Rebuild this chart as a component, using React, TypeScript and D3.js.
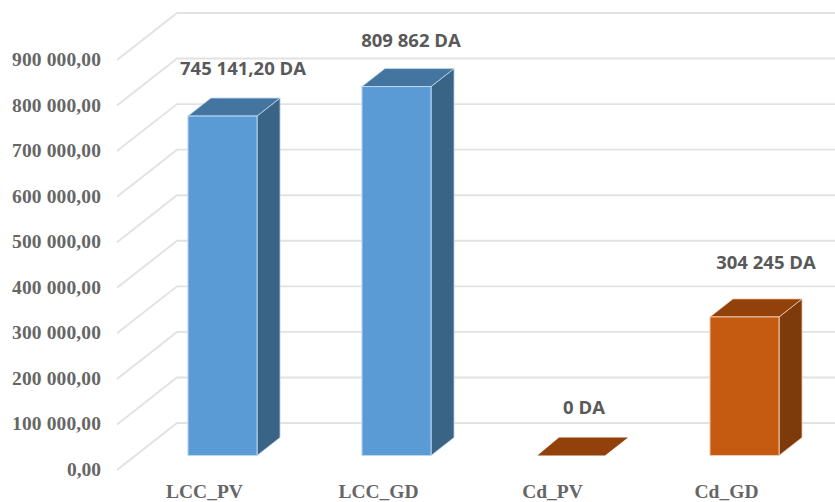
import React from "react";
import * as d3 from "d3";

const categories = ["LCC_PV", "LCC_GD", "Cd_PV", "Cd_GD"];
const values = [745141.2, 809862, 0, 304245];
const valueLabels = ["745 141,20 DA", "809 862 DA", "0 DA", "304 245 DA"];
const labelOffsets = [[243, 75], [411, 46.5], [584, 413.5], [766, 269]];
const yTicks = [0, 100000, 200000, 300000, 400000, 500000, 600000, 700000, 800000, 900000];
const tickLabels = ["0,00", "100 000,00", "200 000,00", "300 000,00", "400 000,00", "500 000,00", "600 000,00", "700 000,00", "800 000,00", "900 000,00"];

const blue = { front: "#5B9BD5", top: "#4475A1", side: "#3A6486", edge: "#BCD7EE" };
const orange = { front: "#C55A11", top: "#93410A", side: "#7D3A0A", edge: "#F0CDB5" };
const palettes = [blue, blue, orange, orange];

const W = 835, H = 502;
// Bar plane scale (front face of bars)
const y = d3.scaleLinear().domain([0, 900000]).range([455.5, 45.5]);
const x = d3.scaleBand<string>().domain(categories).range([135.5, 831.5]).paddingInner(0.603).paddingOuter(0.3015);
const barDX = 23, barDY = -18;
// Grid: front-left and back-left corners relative to the bar plane
const gridFrontX = 117, gridBackX = 177, gridFrontDY = 14.5, gridBackDY = -32.5;

export default function App() {
  return (
    <svg width={W} height={H} style={{ position: "absolute", left: 0, top: 0, background: "#fff" }}>
      {yTicks.map((t, i) => {
        const yy = y(t);
        return (
          <g key={t}>
            <polyline
              points={`${gridFrontX},${yy + gridFrontDY} ${gridBackX},${yy + gridBackDY} ${W},${yy + gridBackDY}`}
              fill="none" stroke="#E2E2E2" strokeWidth={1.9} />
            <text x={101} y={yy + gridFrontDY + 6} textAnchor="end"
              fontFamily="'Liberation Serif'" fontWeight="bold" fontSize={19.5} fill="#666666"
              textLength={tickLabels[i].length > 5 ? 89 : undefined}>
              {tickLabels[i]}
            </text>
          </g>
        );
      })}
      {categories.map((c, i) => {
        const x0 = x(c)!, x1 = x0 + x.bandwidth();
        const y0 = y(0), y1 = y(values[i]);
        const p = palettes[i];
        const hasHeight = values[i] > 0;
        return (
          <g key={c}>
            {hasHeight && <polygon points={`${x1},${y0} ${x1 + barDX},${y0 + barDY} ${x1 + barDX},${y1 + barDY} ${x1},${y1}`}
              fill={p.side} stroke={p.edge} strokeWidth={0.8} strokeLinejoin="round" />}
            <polygon points={`${x0 + (hasHeight ? 0 : 1.5)},${y1} ${x1},${y1} ${x1 + barDX},${y1 + barDY} ${x0 + barDX},${y1 + barDY}`}
              fill={p.top} stroke={hasHeight ? p.edge : "none"} strokeWidth={0.8} strokeLinejoin="round" />
            {hasHeight && <rect x={x0} y={y1} width={x.bandwidth()} height={y0 - y1}
              fill={p.front} stroke={p.edge} strokeWidth={1} />}
            <text x={labelOffsets[i][0]} y={labelOffsets[i][1]} textAnchor="middle"
              fontFamily="'Open Sans'" fontWeight="bold" fontSize={18.5} fill="#595959">
              {valueLabels[i]}
            </text>
            <text x={x0 + x.bandwidth() / 2 - 18} y={498} textAnchor="middle"
              fontFamily="'Liberation Serif'" fontWeight="bold" fontSize={19.5} fill="#666666">
              {c}
            </text>
          </g>
        );
      })}
    </svg>
  );
}
